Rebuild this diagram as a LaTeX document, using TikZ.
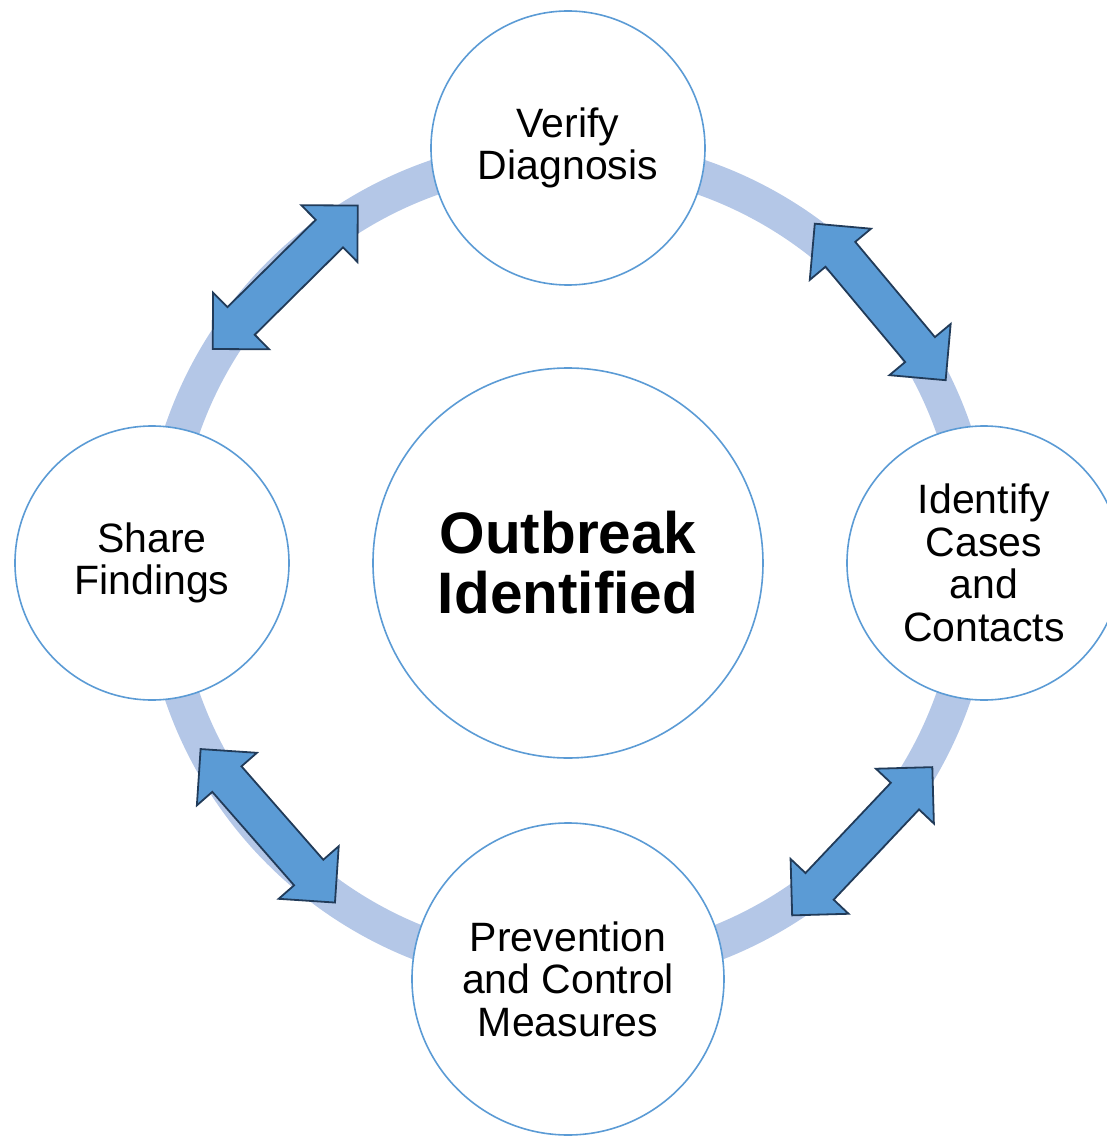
\documentclass[tikz,border=0pt]{standalone}
\usepackage{fontspec}
\setmainfont{Liberation Sans}
\usetikzlibrary{positioning}
\usetikzlibrary{shapes.arrows}
\definecolor{ringblue}{RGB}{180,199,231}
\definecolor{accent}{RGB}{91,155,213}
\definecolor{darkedge}{RGB}{33,59,89}

\begin{document}
\begin{tikzpicture}[x=1pt, y=1pt,
    stage/.style={circle, draw=accent, line width=1.6pt, fill=white, align=center,
        inner sep=0pt, font=\fontsize{41}{42.5}\selectfont},
    dblarrow/.style={double arrow, fill=accent, draw=darkedge, line width=1.8pt,
        minimum height=204pt, inner xsep=0pt, inner ysep=18.5pt, double arrow head extend=20.5pt}]
    \useasboundingbox (-568,-573) rectangle (539,563);
    \coordinate (hub) at (0,0);

    % ring behind the stages
    \draw[ringblue, line width=35pt] (hub) circle (408);

    \node[stage, minimum size=390pt, font=\bfseries\fontsize{58.5}{60}\selectfont] (outbreak) at (hub) {Outbreak\\Identified};

    \node[stage, minimum size=274pt, on grid, above=415pt of outbreak] (verify) {Verify\\Diagnosis};
    \node[stage, minimum size=274pt, on grid, right=416pt of outbreak] (identify) {Identify\\Cases\\and\\Contacts};
    \node[stage, minimum size=312pt, on grid, below=416pt of outbreak] (prevent) {Prevention\\and Control\\Measures};
    \node[stage, minimum size=274pt, on grid, left=416pt of outbreak] (share) {Share\\Findings};

    % two-way arrows on the ring
    \foreach \ang/\rad/\name in {134.7/402/arrTL, 39.9/407/arrTR, -43.4/405/arrBR, -138.8/399/arrBL} {
        \node[dblarrow, rotate=\ang-90] (\name) at ([shift={(\ang:\rad)}]outbreak) {};
    }
\end{tikzpicture}
\end{document}
